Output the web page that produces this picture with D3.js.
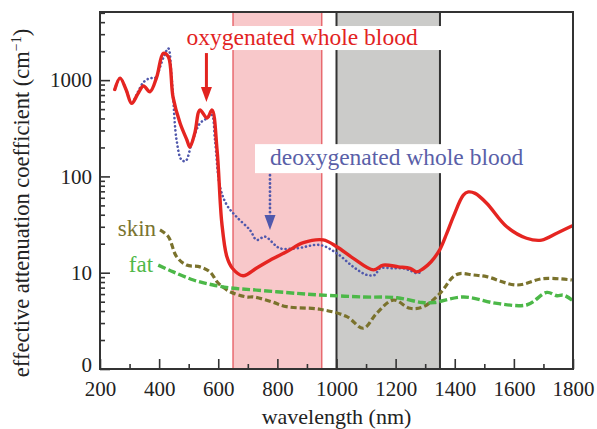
<!DOCTYPE html>
<html>
<head>
<meta charset="utf-8">
<script src="https://cdn.jsdelivr.net/npm/d3@7"></script>
<style>
  body { margin: 0; background: #fff; }
  text { font-family: 'Liberation Serif', 'DejaVu Serif', serif; }
</style>
</head>
<body>
<div id="chart"></div>
<script>
// wavelength (nm) / attenuation (cm^-1)
const oxyWavelength = [250, 268, 288, 307, 328, 347, 369, 392, 414, 431, 447, 471, 494, 504, 521, 538, 562, 579, 596, 612, 629, 647, 684, 730, 775, 831, 888, 955, 1001, 1057, 1125, 1158, 1210, 1249, 1271, 1293, 1320, 1350, 1373, 1395, 1429, 1446, 1469, 1508, 1576, 1643, 1694, 1745, 1796];
const oxyValue = [800, 1050, 800, 574, 720, 868, 758, 1080, 1900, 1750, 667, 356, 239, 202, 285, 489, 404, 489, 188, 33, 14.7, 11.2, 9.3, 11.2, 13.5, 16.5, 20.5, 21.9, 18.6, 14.1, 10.7, 12, 11.5, 11.1, 10.2, 11, 13, 17.5, 25.6, 38, 64, 69, 66.7, 52.7, 30, 22.8, 21.8, 25.7, 30.5];

const deoxyWavelength = [250, 268, 288, 307, 328, 347, 369, 386, 414, 431, 442, 447, 459, 476, 490, 510, 538, 561, 578, 589, 606, 629, 662, 707, 730, 758, 792, 809, 865, 944, 1001, 1057, 1102, 1130, 1147, 1190, 1226, 1250, 1271, 1288];
const deoxyValue = [800, 1050, 800, 580, 750, 950, 1050, 1050, 1700, 2140, 1085, 700, 239, 148, 145, 220, 355, 400, 435, 239, 78, 50.5, 38, 27.8, 21.9, 23.7, 19.4, 17.9, 17.9, 19.4, 15.9, 11.5, 9.5, 9.5, 11.1, 11.1, 11.1, 10.5, 9.9, 10.2];

const skinWavelength = [403, 431, 459, 493, 538, 572, 600, 640, 696, 719, 780, 831, 944, 1035, 1091, 1136, 1192, 1249, 1294, 1350, 1395, 1418, 1460, 1508, 1609, 1700, 1796];
const skinValue = [27.8, 23.7, 14.7, 12, 11.5, 10.2, 7.8, 6.35, 5.6, 5.6, 5.0, 4.44, 4.17, 3.5, 2.65, 3.79, 5.2, 4.27, 4.44, 6.1, 9.1, 9.8, 9.5, 9.1, 7.45, 8.7, 8.4];

const fatWavelength = [397, 448, 516, 583, 651, 730, 866, 944, 1092, 1205, 1290, 1330, 1430, 1543, 1645, 1712, 1746, 1768, 1797];
const fatValue = [12, 10.2, 8.4, 7.45, 6.9, 6.6, 6.1, 5.87, 5.6, 5.5, 4.9, 4.9, 5.6, 4.8, 4.65, 6.25, 5.77, 5.85, 5.2];

// optical windows (nm)
const bandPink = [650, 950];
const bandGray = [1000, 1350];

const xTicks = [200, 400, 600, 800, 1000, 1200, 1400, 1600, 1800];
const yTicks = [1, 10, 100, 1000];
const yTickLabels = ['0', '10', '100', '1000'];

document.addEventListener('DOMContentLoaded', () => {

  const width = 597;
  const height = 429;
  const margin = { top: 12, right: 24, bottom: 60, left: 100 };

  const svg = d3.select('#chart')
                .append('svg')
                .attr('width', width)
                .attr('height', height);

  const x = d3.scaleLinear()
              .domain([200, 1800])
              .range([margin.left, width - margin.right]);

  const y = d3.scaleLog()
              .domain([1, 5100])
              .range([height - margin.bottom, margin.top]);

  const top = margin.top;
  const bottom = height - margin.bottom;

  // shaded windows
  svg.append('rect')
     .attr('x', x(bandPink[0]))
     .attr('y', top)
     .attr('width', x(bandPink[1]) - x(bandPink[0]))
     .attr('height', bottom - top)
     .attr('fill', '#f8c8ca');
  svg.selectAll('.pink-edge')
     .data(bandPink)
     .enter()
     .append('line')
     .attr('x1', (d) => x(d))
     .attr('x2', (d) => x(d))
     .attr('y1', top)
     .attr('y2', bottom)
     .attr('stroke', '#e86a70')
     .attr('stroke-width', 1.5);

  svg.append('rect')
     .attr('x', x(bandGray[0]))
     .attr('y', top)
     .attr('width', x(bandGray[1]) - x(bandGray[0]))
     .attr('height', bottom - top)
     .attr('fill', '#cbcbc9');
  svg.selectAll('.gray-edge')
     .data(bandGray)
     .enter()
     .append('line')
     .attr('x1', (d) => x(d))
     .attr('x2', (d) => x(d))
     .attr('y1', top)
     .attr('y2', bottom)
     .attr('stroke', '#333')
     .attr('stroke-width', 2);

  // curves
  const makeLine = d3.line()
                     .x((d) => x(d[0]))
                     .y((d) => y(d[1]))
                     .curve(d3.curveCatmullRom.alpha(0.5));

  const zip = (a, b) => a.map((v, i) => [v, b[i]]);

  const series = [
    { pts: zip(skinWavelength, skinValue), color: '#7a722c', w: 3.2, dash: '6 3', cap: 'butt' },
    { pts: zip(fatWavelength, fatValue), color: '#4cb848', w: 3.4, dash: '8 3', cap: 'butt' },
    { pts: zip(deoxyWavelength, deoxyValue), color: '#5058ac', w: 2.6, dash: '0.1 4', cap: 'round' },
    { pts: zip(oxyWavelength, oxyValue), color: '#e52521', w: 3.4, dash: null, cap: 'round' }
  ];

  svg.selectAll('.curve')
     .data(series)
     .enter()
     .append('path')
     .attr('class', 'curve')
     .attr('d', (d) => makeLine(d.pts))
     .attr('fill', 'none')
     .attr('stroke', (d) => d.color)
     .attr('stroke-width', (d) => d.w)
     .attr('stroke-dasharray', (d) => d.dash)
     .attr('stroke-linecap', (d) => d.cap)
     .attr('stroke-linejoin', 'round');

  // labels with white boxes
  const addLabel = (label, wl, val, color, padL, padR, padT, padB) => {
    const g = svg.append('g');
    const box = g.append('rect').attr('fill', '#fff');
    const t = g.append('text')
               .attr('x', x(wl))
               .attr('y', y(val))
               .attr('fill', color)
               .style('font-size', '23.5px')
               .text(label);
    const bb = t.node().getBBox();
    box.attr('x', bb.x - padL)
       .attr('y', bb.y - padT)
       .attr('width', bb.width + padL + padR)
       .attr('height', bb.height + padT + padB);
  };

  addLabel('oxygenated whole blood', 493, 2315, '#e2231f', 7, 26, -2, 0);
  addLabel('deoxygenated whole blood', 775, 131, '#5a5fa8', 15, 6, 0, 3);

  // arrows
  const arrow = (wl, from, to, color, dotted) => {
    const ax = x(wl);
    const y0 = y(from);
    const y1 = y(to);
    svg.append('line')
       .attr('x1', ax)
       .attr('x2', ax)
       .attr('y1', y0)
       .attr('y2', y1 - 12)
       .attr('stroke', color)
       .attr('stroke-width', dotted ? 2.8 : 3)
       .attr('stroke-dasharray', dotted ? '0.1 4' : null)
       .attr('stroke-linecap', dotted ? 'round' : 'butt');
    svg.append('path')
       .attr('d', 'M' + (ax - 5.5) + ',' + (y1 - 15) + 'L' + (ax + 5.5) + ',' + (y1 - 15) + 'L' + ax + ',' + y1 + 'Z')
       .attr('fill', color);
  };

  arrow(560, 1910, 593, '#e2231f', false);
  arrow(775, 103, 27.8, '#5058ac', true);

  // skin / fat labels
  svg.append('text')
     .attr('x', x(400) - 3)
     .attr('y', y(27.8) + 6)
     .attr('text-anchor', 'end')
     .attr('fill', '#7a7430')
     .style('font-size', '23px')
     .text('skin');
  svg.append('text')
     .attr('x', x(400) - 6)
     .attr('y', y(12) + 7)
     .attr('text-anchor', 'end')
     .attr('fill', '#50b848')
     .style('font-size', '23px')
     .text('fat');

  // axes
  const xMinor = d3.range(200, 1801, 100).filter((d) => d % 200 !== 0);
  svg.append('g')
     .attr('transform', 'translate(0,' + bottom + ')')
     .call(d3.axisBottom(x).tickValues(xMinor).tickSize(-5).tickFormat(''))
     .call((g) => g.select('.domain').remove());
  svg.append('g')
     .attr('transform', 'translate(0,' + bottom + ')')
     .call(d3.axisBottom(x).tickValues(xTicks).tickSize(-10).tickPadding(12)
             .tickFormat(d3.format('d')))
     .call((g) => g.select('.domain').remove())
     .selectAll('text')
     .style('font-size', '21px')
     .attr('fill', '#222');

  const yMinor = [];
  [1, 10, 100, 1000].forEach((dec) => {
    for (let k = 2; k <= 9; k++) {
      if (dec * k <= 5100) yMinor.push(dec * k);
    }
  });
  svg.append('g')
     .attr('transform', 'translate(' + margin.left + ',0)')
     .call(d3.axisLeft(y).tickValues(yMinor).tickSize(-5).tickFormat(''))
     .call((g) => g.select('.domain').remove());
  svg.append('g')
     .attr('transform', 'translate(' + margin.left + ',0)')
     .call(d3.axisLeft(y).tickValues(yTicks).tickSize(-10).tickPadding(8)
             .tickFormat((d, i) => yTickLabels[i]))
     .call((g) => g.select('.domain').remove())
     .selectAll('text')
     .attr('dy', (d) => d === 1 ? '0.12em' : '0.32em')
     .style('font-size', '21px')
     .attr('fill', '#222');

  svg.selectAll('.tick line')
     .attr('stroke', '#333')
     .attr('stroke-width', 1.6);

  // frame
  svg.append('rect')
     .attr('x', margin.left)
     .attr('y', top)
     .attr('width', width - margin.left - margin.right)
     .attr('height', bottom - top)
     .attr('fill', 'none')
     .attr('stroke', '#333')
     .attr('stroke-width', 2);

  // axis titles
  svg.append('text')
     .attr('x', (margin.left + width - margin.right) / 2)
     .attr('y', 424)
     .attr('text-anchor', 'middle')
     .attr('fill', '#222')
     .style('font-size', '22px')
     .text('wavelength (nm)');

  const yTitle = svg.append('text')
                    .attr('transform', 'translate(29,' + 203 + ') rotate(-90)')
                    .attr('text-anchor', 'middle')
                    .attr('fill', '#222')
                    .style('font-size', '22.5px');
  yTitle.append('tspan').text('effective attenuation coefficient (cm');
  yTitle.append('tspan')
        .attr('dy', -8)
        .style('font-size', '14px')
        .text('\u22121');
  yTitle.append('tspan')
        .attr('dy', 8)
        .text(')');
});
</script>
</body>
</html>
